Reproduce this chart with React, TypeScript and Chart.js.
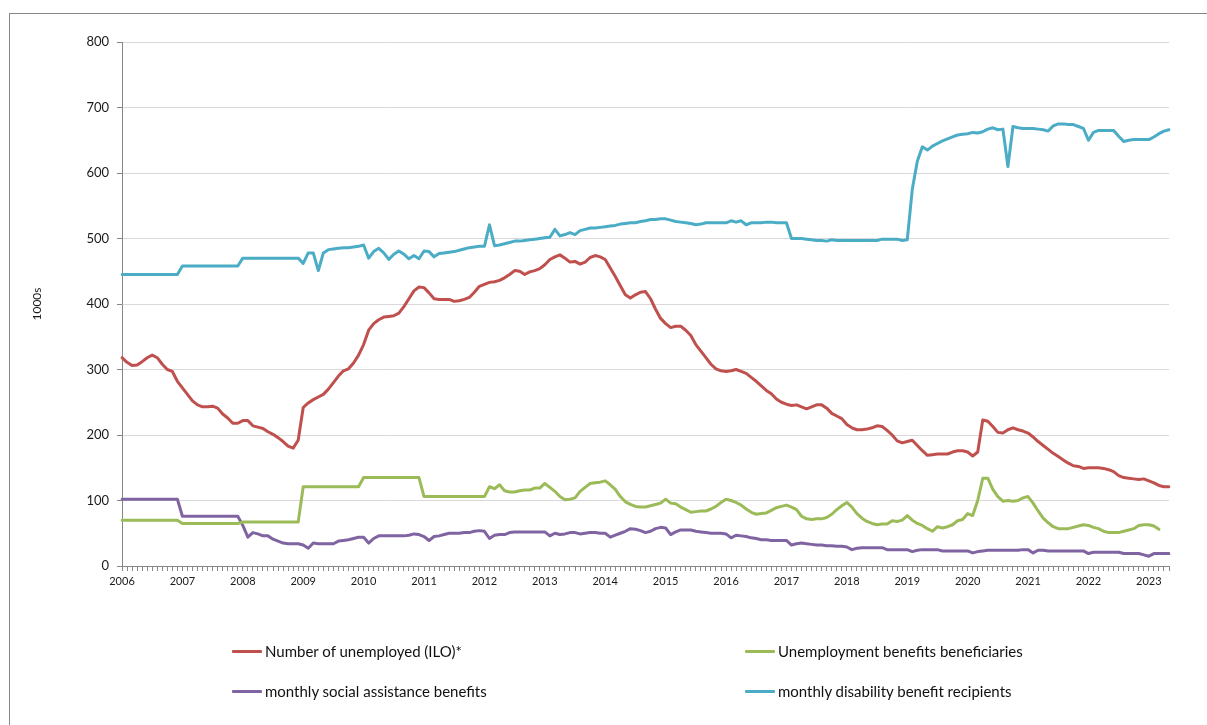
import React, { useEffect, useRef } from "react";
import { Chart, registerables } from "chart.js";

Chart.register(...registerables);

const years = ["2006","2007","2008","2009","2010","2011","2012","2013","2014","2015","2016","2017","2018","2019","2020","2021","2022","2023"];
const monthsInLastYear = 5;

const unemployedILO = [
  318,311,306,307,312,318,322,318,308,300,297,282,
  272,262,252,246,243,243,244,241,232,226,218,218,
  222,222,214,212,210,205,201,196,190,183,180,192,
  242,249,254,258,262,270,280,290,298,301,310,322,
  338,360,370,376,380,381,382,386,396,408,420,426,
  425,417,408,407,407,407,404,405,407,410,418,427,
  430,433,434,436,440,445,451,450,445,449,451,454,
  460,468,472,475,470,464,465,461,464,471,474,472,
  468,455,442,428,414,409,414,418,419,408,392,378,
  370,364,366,366,360,352,338,328,318,308,301,298,
  297,298,300,297,294,288,282,275,268,263,255,250,
  247,245,246,243,240,243,246,246,241,233,229,225,
  216,211,208,208,209,211,214,213,207,200,191,188,
  190,192,184,176,169,170,171,171,171,174,176,176,
  174,168,174,223,221,213,204,203,208,211,208,206,
  203,197,190,184,178,172,167,162,157,153,152,149,
  150,150,150,149,147,144,138,135,134,133,132,133,
  130,127,123,121,121
];

const unemploymentBenefits = [
  70,70,70,70,70,70,70,70,70,70,70,70,
  65,65,65,65,65,65,65,65,65,65,65,65,
  67,67,67,67,67,67,67,67,67,67,67,67,
  121,121,121,121,121,121,121,121,121,121,121,121,
  135,135,135,135,135,135,135,135,135,135,135,135,
  106,106,106,106,106,106,106,106,106,106,106,106,
  106,121,118,124,115,113,113,115,116,116,119,119,
  126,120,114,106,101,102,104,114,120,126,127,128,
  130,124,117,106,98,94,91,90,90,92,94,96,
  102,96,95,90,86,82,83,84,84,87,91,97,
  102,100,97,93,87,82,79,80,81,85,89,91,
  93,90,86,76,72,71,72,72,74,79,86,92,
  97,90,80,73,68,65,63,64,64,69,68,70,
  77,70,65,62,57,53,60,58,60,63,69,71,
  80,77,100,134,134,117,106,99,100,99,100,104,
  106,96,84,73,66,60,57,57,57,59,61,63,
  62,59,57,53,51,51,51,53,55,57,62,63,
  63,61,56,null,null
];

const socialAssistance = [
  102,102,102,102,102,102,102,102,102,102,102,102,
  76,76,76,76,76,76,76,76,76,76,76,76,
  62,44,51,49,46,46,41,38,35,34,34,34,
  32,27,35,34,34,34,34,38,39,40,42,44,
  44,35,42,46,46,46,46,46,46,47,49,48,
  45,39,45,46,48,50,50,50,51,51,53,54,
  53,42,47,48,48,51,52,52,52,52,52,52,
  52,46,50,48,49,51,51,49,50,51,51,50,
  50,44,47,50,53,57,56,54,51,53,57,59,
  58,48,52,55,55,55,53,52,51,50,50,50,
  49,43,47,46,45,43,42,40,40,39,39,39,
  39,32,34,35,34,33,32,32,31,31,30,30,
  29,25,27,28,28,28,28,28,25,25,25,25,
  25,22,24,25,25,25,25,23,23,23,23,23,
  23,20,22,23,24,24,24,24,24,24,24,25,
  25,20,24,24,23,23,23,23,23,23,23,23,
  19,21,21,21,21,21,21,19,19,19,19,17,
  15,19,19,19,19
];

const disabilityRecipients = [
  445,445,445,445,445,445,445,445,445,445,445,445,
  458,458,458,458,458,458,458,458,458,458,458,458,
  470,470,470,470,470,470,470,470,470,470,470,470,
  462,478,478,451,478,483,484,485,486,486,487,488,
  490,470,480,485,478,468,476,481,476,469,474,469,
  481,480,472,477,478,479,480,482,484,486,487,488,
  488,521,489,490,492,494,496,496,497,498,499,500,
  501,502,514,504,506,509,506,512,514,516,516,517,
  518,519,520,522,523,524,524,526,527,529,529,530,
  530,528,526,525,524,523,521,522,524,524,524,524,
  524,527,525,527,521,524,524,524,525,525,524,524,
  524,500,500,500,499,498,497,497,496,498,497,497,
  497,497,497,497,497,497,497,499,499,499,499,497,
  498,575,618,640,635,641,645,649,652,655,658,659,
  660,662,661,663,667,669,666,667,610,671,669,668,
  668,668,667,666,664,672,675,675,674,674,671,668,
  650,662,665,665,665,665,656,648,650,651,651,651,
  651,655,660,664,666
];

const seriesNames = [
  "Number of unemployed (ILO)*",
  "Unemployment benefits beneficiaries",
  "monthly social assistance benefits",
  "monthly disability benefit recipients",
];
const seriesColors = ["#C0504D", "#9BBB59", "#8064A2", "#4BACC6"];

const FONT = "Lato, 'Open Sans', 'Liberation Sans', sans-serif";

function buildLabels(): string[] {
  const out: string[] = [];
  years.forEach((y, i) => {
    const n = i === years.length - 1 ? monthsInLastYear : 12;
    for (let m = 0; m < n; m++) out.push(m === 0 ? y : "");
  });
  return out;
}

export default function App() {
  const ref = useRef<HTMLCanvasElement | null>(null);

  useEffect(() => {
    if (!ref.current) return;
    const labels = buildLabels();
    const dataSets = [unemployedILO, unemploymentBenefits, socialAssistance, disabilityRecipients];
    const chart = new Chart(ref.current, {
      type: "line",
      data: {
        labels,
        datasets: dataSets.map((d, i) => ({
          label: seriesNames[i],
          data: d,
          borderColor: seriesColors[i],
          backgroundColor: seriesColors[i],
          borderWidth: 3,
          pointRadius: 0,
          tension: 0,
          borderJoinStyle: "round" as const,
          borderCapStyle: "round" as const,
          spanGaps: false,
        })),
      },
      options: {
        responsive: false,
        animation: false,
        layout: { padding: { left: 0, top: 42, right: 38, bottom: 0 } },
        plugins: {
          legend: { display: false },
          tooltip: { enabled: false },
        },
        scales: {
          x: {
            type: "category",
            offset: false,
            grid: {
              display: true,
              drawOnChartArea: false,
              drawTicks: true,
              tickLength: 5,
              color: "#868686",
            },
            border: { display: true, color: "#868686", width: 1 },
            ticks: {
              autoSkip: false,
              maxRotation: 0,
              minRotation: 0,
              padding: 4,
              color: "#1a1a1a",
              font: { family: FONT, size: 11 },
            },
            afterFit: (scale: any) => {
              scale.height = 725 - 566;
            },
          },
          y: {
            min: 0,
            max: 800,
            ticks: {
              stepSize: 100,
              padding: 8,
              color: "#1a1a1a",
              font: { family: FONT, size: 13 },
            },
            grid: {
              color: "#d9d9d9",
              lineWidth: 1,
              tickLength: 5,
              tickColor: "#868686",
            },
            border: { display: true, color: "#868686", width: 1 },
            title: {
              display: true,
              text: "1000s",
              color: "#1a1a1a",
              font: { family: FONT, size: 12 },
              padding: { top: 30, bottom: 0 },
            },
            afterFit: (scale: any) => {
              scale.width = 122;
            },
          },
        },
      },
    });
    return () => chart.destroy();
  }, []);

  const legendItem = (i: number, left: number, top: number) => (
    <div
      key={i}
      style={{
        position: "absolute",
        left,
        top: top - 10,
        height: 20,
        display: "flex",
        alignItems: "center",
        fontFamily: FONT,
        fontSize: 15,
        color: "#111",
        whiteSpace: "nowrap",
      }}
    >
      <span
        style={{
          display: "inline-block",
          width: 30,
          height: 3,
          background: seriesColors[i],
          marginRight: 3,
          borderRadius: 1,
        }}
      />
      <span>{seriesNames[i]}</span>
    </div>
  );

  return (
    <div style={{ position: "fixed", left: 0, top: 0, width: 1207, height: 725, background: "#fff", overflow: "hidden" }}>
      <div
        style={{
          position: "absolute",
          left: 9,
          top: 13,
          width: 1198,
          height: 712,
          borderLeft: "1px solid #878787",
          borderTop: "1px solid #878787",
          boxSizing: "border-box",
        }}
      />
      <canvas ref={ref} width={1207} height={725} style={{ position: "absolute", left: 0, top: 0, width: 1207, height: 725 }} />
      {legendItem(0, 232, 651)}
      {legendItem(1, 745, 651)}
      {legendItem(2, 232, 691)}
      {legendItem(3, 745, 691)}
    </div>
  );
}
